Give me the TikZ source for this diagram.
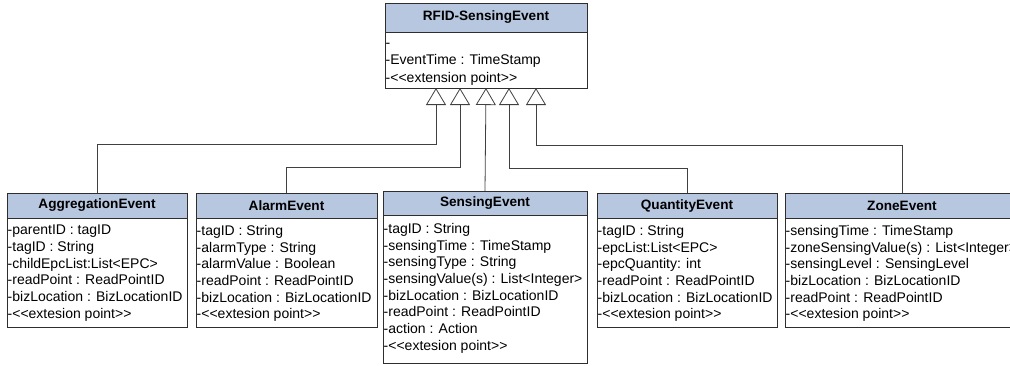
\documentclass[tikz,border=0pt]{standalone}
\usepackage{fontspec}
\setmainfont{Liberation Sans}
\usetikzlibrary{arrows.meta}
\definecolor{hdrfill}{HTML}{B7C7DF}
\definecolor{edge}{HTML}{2E2E2E}
\definecolor{wire}{HTML}{404040}
\tikzset{
  classhead/.style={draw=edge, line width=0.9pt, fill=hdrfill, inner sep=0pt, outer sep=0pt,
    anchor=north west, font=\fontsize{13.6}{15}\selectfont\bfseries},
  classbody/.style={draw=edge, line width=0.9pt, fill=white, inner sep=0pt, outer sep=0pt,
    anchor=north west},
  attrs/.style={inner sep=0pt, anchor=north west, align=left,
    font=\fontsize{14}{16.7}\selectfont},
  gen/.style={draw=wire, line width=0.8pt,
    -{Triangle[open, width=20pt, length=17pt, line width=0.8pt]}}
}
% name, left, top, width, header height, body height, title, attribute rows, row offset
\newcommand\umlclass[9]{%
  \node[classhead, minimum width=#4pt, minimum height=#5pt] (#1-h) at (#2,#3) {#7};
  \node[classbody, minimum width=#4pt, minimum height=#6pt] (#1) at (#1-h.south west) {};
  \node[attrs] (#1-a) at ([xshift=0.5pt,yshift=-#9pt]#1.north west) {#8};
}
\newcommand\lt{\textless\kern0pt}
\newcommand\gt{\textgreater\kern0pt}
\newcommand\ext{\lt\lt extesion point\gt\gt}
\begin{document}
\begin{tikzpicture}[x=1pt, y=-1pt]
  \useasboundingbox (0,0) rectangle (1010,365);
  \clip (0,0) rectangle (1010,365);

  % superclass
  \umlclass{top}{385}{3}{202}{29}{56}{RFID-SensingEvent}
    {-\\[0.6pt]-EventTime : TimeStamp\\[0.6pt]-\lt\lt extension point\gt\gt}{11}

  % subclasses
  \umlclass{agg}{7}{193}{180}{25}{109}{AggregationEvent}
    {-parentID : tagID\\-tagID : String\\-childEpcList:List\lt EPC\gt\\
     -readPoint : ReadPointID\\-bizLocation : BizLocationID\\-\ext}{7}
  \umlclass{alarm}{196}{193}{181}{25}{109}{AlarmEvent}
    {-tagID : String\\-alarmType : String\\-alarmValue : Boolean\\
     -readPoint : ReadPointID\\-bizLocation : BizLocationID\\-\ext}{7}
  \umlclass{sens}{383}{191}{204}{24}{148}{SensingEvent}
    {-tagID : String\\-sensingTime : TimeStamp\\-sensingType : String\\
     -sensingValue(s) : List\lt Integer\gt\\-bizLocation : BizLocationID\\
     -readPoint : ReadPointID\\-action : Action\\-\ext}{8}
  \umlclass{qty}{597}{193}{180}{25}{109}{QuantityEvent}
    {-tagID : String\\-epcList:List\lt EPC\gt\\-epcQuantity: int\\
     -readPoint : ReadPointID\\-bizLocation : BizLocationID\\-\ext}{7}
  \umlclass{zone}{785}{193}{234}{25}{109}{ZoneEvent}
    {-sensingTime : TimeStamp\\-zoneSensingValue(s) : List\lt Integer\gt\\
     -sensingLevel : SensingLevel\\-bizLocation : BizLocationID\\
     -readPoint : ReadPointID\\-\ext}{7}

  % generalisation connectors
  \draw[gen] (agg-h.north) -- ++(0,-49) -| ([xshift=-50pt]top.south);
  \draw[gen] (alarm-h.north) -- ++(0,-26) -| ([xshift=-26pt]top.south);
  \draw[gen] (sens-h.north) -- (top.south);
  \draw[gen] (qty-h.north) -- ++(0,-25) -| ([xshift=23pt]top.south);
  \draw[gen] (zone-h.north) -- ++(0,-48) -| ([xshift=50pt]top.south);
\end{tikzpicture}
\end{document}
